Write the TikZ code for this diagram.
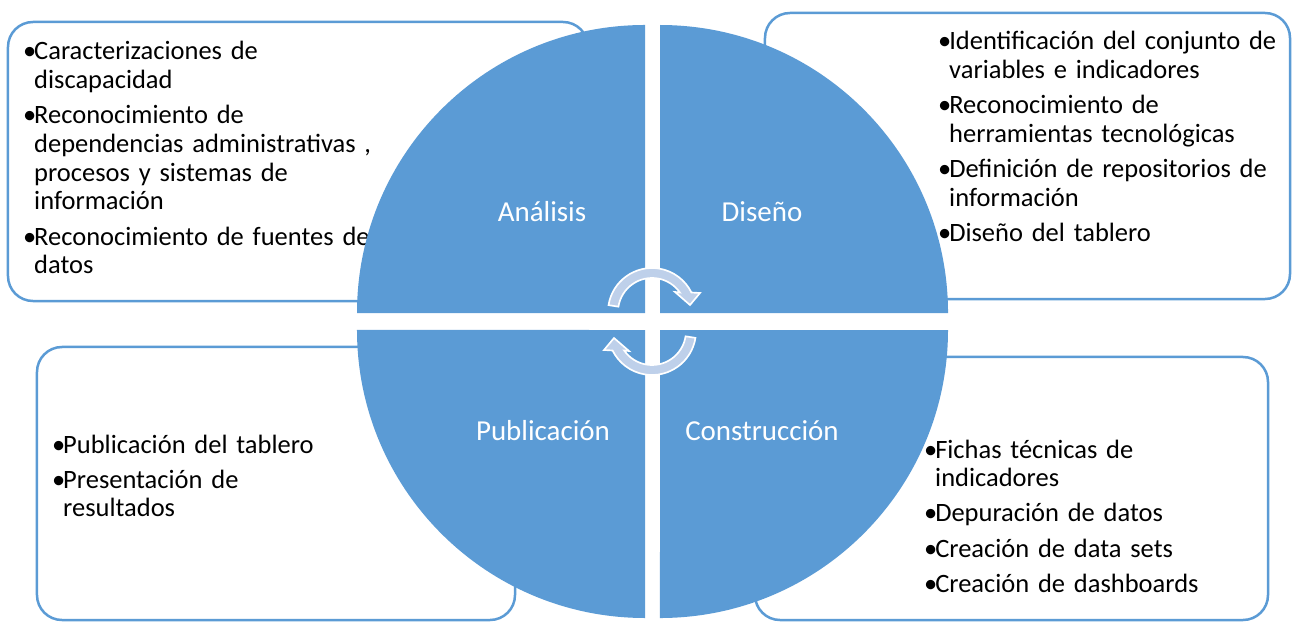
\documentclass[tikz,border=0pt]{standalone}
\usepackage{fontspec}
\setmainfont{Carlito}
\usetikzlibrary{positioning}
\usetikzlibrary{calc}
\definecolor{phaseblue}{RGB}{91,155,213}
\definecolor{arrowfill}{RGB}{190,208,234}
\newcommand{\titem}[1]{\hangindent=0.33cm\hangafter=1\noindent\makebox[0.33cm][l]{\textbullet}#1\par}
\tikzset{
  phasebox/.style={draw=phaseblue, line width=0.075cm, rounded corners=0.75cm, fill=white, inner sep=0pt},
  tasks/.style={anchor=base west, inner sep=0pt, text width=14cm, align=left,
    font=\fontsize{22.6}{24.5}\selectfont,
    execute at begin node={\setlength{\parskip}{5.5pt}}},
  quarter/.style={fill=phaseblue},
  phase/.style={anchor=base, text=white, inner sep=0pt, font=\fontsize{24.7}{29}\selectfont},
  cyclearrow/.style={fill=arrowfill, draw=white, line width=0.05cm, line join=miter},
}

\begin{document}
\begin{tikzpicture}[x=0.03cm, y=0.03cm]
  \useasboundingbox (0,0) rectangle (1292,-622);

  % Define boxes
  \node[phasebox, minimum width=17.4cm, minimum height=8.37cm] (box_analisis) at (298,-161.5) {};
  \node[phasebox, minimum width=15.75cm, minimum height=8.58cm] (box_diseno) at (1027.5,-156) {};
  \node[phasebox, minimum width=14.34cm, minimum height=8.19cm] (box_publicacion) at (276,-483.5) {};
  \node[phasebox, minimum width=15.39cm, minimum height=7.89cm] (box_construccion) at (1011.5,-488.5) {};

  % Task lists
  \node[tasks] (list_analisis) at (23,-60) {%
    \titem{Caracterizaciones de\newline discapacidad}%
    \titem{Reconocimiento de\newline dependencias administrativas ,\newline procesos y sistemas de\newline información}%
    \titem{Reconocimiento de fuentes de\newline datos}};
  \node[tasks] (list_diseno) at (938,-50) {%
    \titem{Identificación del conjunto de\newline variables e indicadores}%
    \titem{Reconocimiento de\newline herramientas tecnológicas}%
    \titem{Definición de repositorios de\newline información}%
    \titem{Diseño del tablero}};
  \node[tasks] (list_publicacion) at (52,-453) {%
    \titem{Publicación del tablero}%
    \titem{Presentación de\newline resultados}};
  \node[tasks] (list_construccion) at (924,-458) {%
    \titem{Fichas técnicas de\newline indicadores}%
    \titem{Depuración de datos}%
    \titem{Creación de data sets}%
    \titem{Creación de dashboards}};

  % Quadrants
  \coordinate (q_analisis) at (645,-313);
  \coordinate (q_diseno) at (660,-313);
  \coordinate (q_publicacion) at (645,-330);
  \coordinate (q_construccion) at (660,-330);
  \fill[quarter] (q_analisis) -- ++(-288,0) arc[start angle=180, end angle=90, radius=8.64cm] -- cycle;
  \fill[quarter] (q_diseno) -- ++(0,288) arc[start angle=90, end angle=0, radius=8.64cm] -- cycle;
  \fill[quarter] (q_publicacion) -- ++(0,-288) arc[start angle=270, end angle=180, radius=8.64cm] -- cycle;
  \fill[quarter] (q_construccion) -- ++(288,0) arc[start angle=0, end angle=-90, radius=8.64cm] -- cycle;

  \node[phase] (lbl_analisis) at (542,-221) {Análisis};
  \node[phase] (lbl_diseno) at (762,-221) {Diseño};
  \node[phase] (lbl_publicacion) at (543,-440) {Publicación};
  \node[phase] (lbl_construccion) at (762,-440) {Construcción};

  % Cycle arrows
  \coordinate (cT) at (652,-312);
  \coordinate (cB) at (652,-331);
  \filldraw[cyclearrow] ($(cT)+(171:1.32cm)$) arc[start angle=171, end angle=26.3, radius=1.32cm]
    -- ($(cT)+(48,19)$) -- ($(cT)+(38,7)$) -- ($(cT)+(23,20)$) -- ($(cT)+(35:1.02cm)$)
    arc[start angle=35, end angle=171, radius=1.02cm] -- cycle;
  \filldraw[cyclearrow] ($(cB)+(-9:1.32cm)$) arc[start angle=-9, end angle=-153.7, radius=1.32cm]
    -- ($(cB)+(-48,-19)$) -- ($(cB)+(-38,-7)$) -- ($(cB)+(-23,-20)$) -- ($(cB)+(-145:1.02cm)$)
    arc[start angle=-145, end angle=-9, radius=1.02cm] -- cycle;

\end{tikzpicture}
\end{document}
